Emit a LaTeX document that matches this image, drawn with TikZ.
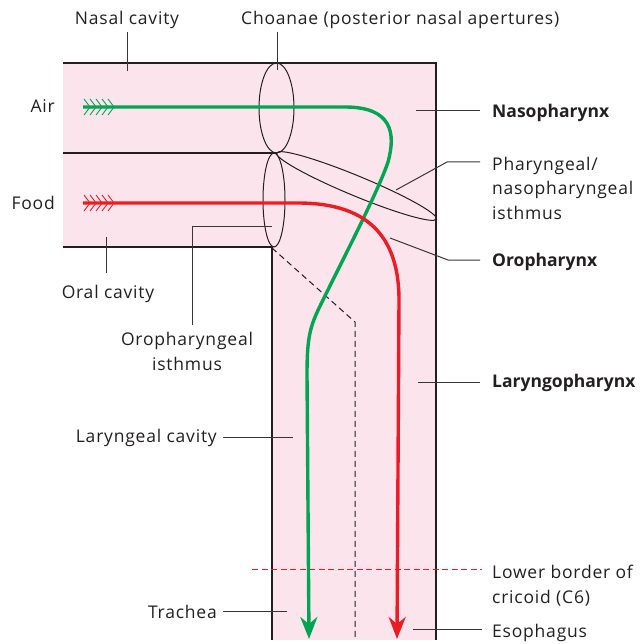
\documentclass[tikz,border=0pt]{standalone}
\usepackage{fontspec}
\setmainfont{Open Sans}[LetterSpace=4.5, BoldFeatures={LetterSpace=0}]
\usetikzlibrary{arrows.meta}
\definecolor{pinkbg}{HTML}{FCE4EC}
\definecolor{airgreen}{HTML}{00A651}
\definecolor{foodred}{HTML}{ED1C24}
\definecolor{ink}{HTML}{231F20}
\begin{document}
\begin{tikzpicture}[x=1pt,y=-1pt,
  lbl/.style={inner sep=0pt, font=\fontsize{17.5}{24.5}\selectfont, text=ink},
  blbl/.style={lbl, font=\fontsize{17.5}{24.5}\selectfont\bfseries},
  wall/.style={draw=ink, line width=1.1pt},
  leader/.style={draw=ink!90, line width=1pt},
  flow/.style={line width=3.4pt, -{Stealth[length=22pt,width=17pt,inset=7pt]}},
  feather/.style={line width=0.9pt}
]
\useasboundingbox (0,0) rectangle (639,644);
% pink region
\fill[pinkbg] (63,63) -- (436,63) -- (436,640) -- (272,640) -- (272,247) -- (63,247) -- cycle;
% walls
\draw[wall] (63,63) -- (436,63) -- (436,640);
\draw[wall] (63,153) -- (277,153);
\draw[wall] (63,247) -- (272,247) -- (272,640);
% dashed larynx boundary
\draw[draw=ink, line width=1pt, dash pattern=on 6pt off 4pt] (272,248) -- (355,322) -- (355,640);
% lower border of cricoid
\draw[draw=foodred, line width=0.9pt, dash pattern=on 6pt off 3.5pt] (252,569) -- (482,569);
% ellipses
\draw[draw=ink, line width=1pt] (276.5,108) ellipse [x radius=17.5pt, y radius=45pt];
\draw[draw=ink, line width=1pt] (274,200) ellipse [x radius=11pt, y radius=47pt];
\begin{scope}[shift={(356.5,186)}, rotate=-22.5]
\draw[draw=ink, line width=1pt] (0,0) ellipse [x radius=86.5pt, y radius=10pt];
\end{scope}
% air flow
\draw[airgreen, flow] (83,107) -- (345,107)
  .. controls (392,107) and (396,133) .. (388,162)
  .. controls (378,192) and (340,265) .. (322,302)
  .. controls (310,326) and (307,336) .. (307,375)
  -- (309,639);
\foreach \i in {0,...,4} {
  \draw[airgreen, feather] (84+6*\i,99) -- (90+6*\i,107) -- (84+6*\i,115);
}
% food flow
\draw[foodred, flow] (83,203) -- (298,203)
  .. controls (356,203) and (399,226) .. (399,300)
  -- (397,639);
\foreach \i in {0,...,4} {
  \draw[foodred, feather] (84+6*\i,195) -- (90+6*\i,203) -- (84+6*\i,211);
}
% labels
\node[lbl, anchor=base] (nasal) at (127,25) {Nasal cavity};
\node[lbl, anchor=base west] (choanae) at (241,25) {Choanae (posterior nasal apertures)};
\node[lbl, anchor=base east] (air) at (55,113) {Air};
\node[lbl, anchor=base east] (food) at (55,209) {Food};
\node[blbl, anchor=base west] (naso) at (492,118) {Nasopharynx};
\node[lbl, anchor=base west, align=left] (isth) at (492,219) {Pharyngeal/\\nasopharyngeal\\isthmus};
\node[blbl, anchor=base west] (oro) at (492,266) {Oropharynx};
\node[blbl, anchor=base west] (laryngo) at (492,387) {Laryngopharynx};
\node[lbl, anchor=base] (oral) at (108,298) {Oral cavity};
\node[lbl, anchor=base, align=center] (oroisth) at (187,370) {Oropharyngeal\\isthmus};
\node[lbl, anchor=base east] (larcav) at (217,442) {Laryngeal cavity};
\node[lbl, anchor=base west, align=left] (cricoid) at (492,603) {Lower border of\\cricoid (C6)};
\node[lbl, anchor=base east] (trachea) at (217,618) {Trachea};
\node[lbl, anchor=base west] (eso) at (492,637) {Esophagus};
% leader end points
\coordinate (nasalA) at (127,32);   \coordinate (nasalB) at (127,71);
\coordinate (choA) at (277,32);     \coordinate (choB) at (277,70);
\coordinate (nasoA) at (480,111);   \coordinate (nasoB) at (416,111);
\coordinate (isthA) at (480,162);   \coordinate (isthK) at (447,162); \coordinate (isthB) at (396,190);
\coordinate (oroA) at (480,260);    \coordinate (oroK) at (448,260);  \coordinate (oroB) at (390,238);
\coordinate (larA) at (480,382);    \coordinate (larB) at (418,382);
\coordinate (oralA) at (106,273);   \coordinate (oralB) at (106,237);
\coordinate (oiA) at (192,325);     \coordinate (oiK) at (192,226);   \coordinate (oiB) at (272,226);
\coordinate (lcA) at (223,437);     \coordinate (lcB) at (293,437);
\coordinate (trA) at (223,611);     \coordinate (trB) at (287,611);
\coordinate (esA) at (482,629);     \coordinate (esB) at (413,629);
% leaders
\draw[leader] (nasalA) -- (nasalB);
\draw[leader] (choA) -- (choB);
\draw[leader] (nasoA) -- (nasoB);
\draw[leader] (isthA) -- (isthK) -- (isthB);
\draw[leader] (oroA) -- (oroK) -- (oroB);
\draw[leader] (larA) -- (larB);
\draw[leader] (oralA) -- (oralB);
\draw[leader] (oiA) -- (oiK) -- (oiB);
\draw[leader] (lcA) -- (lcB);
\draw[leader] (trA) -- (trB);
\draw[leader] (esA) -- (esB);
\end{tikzpicture}
\end{document}
